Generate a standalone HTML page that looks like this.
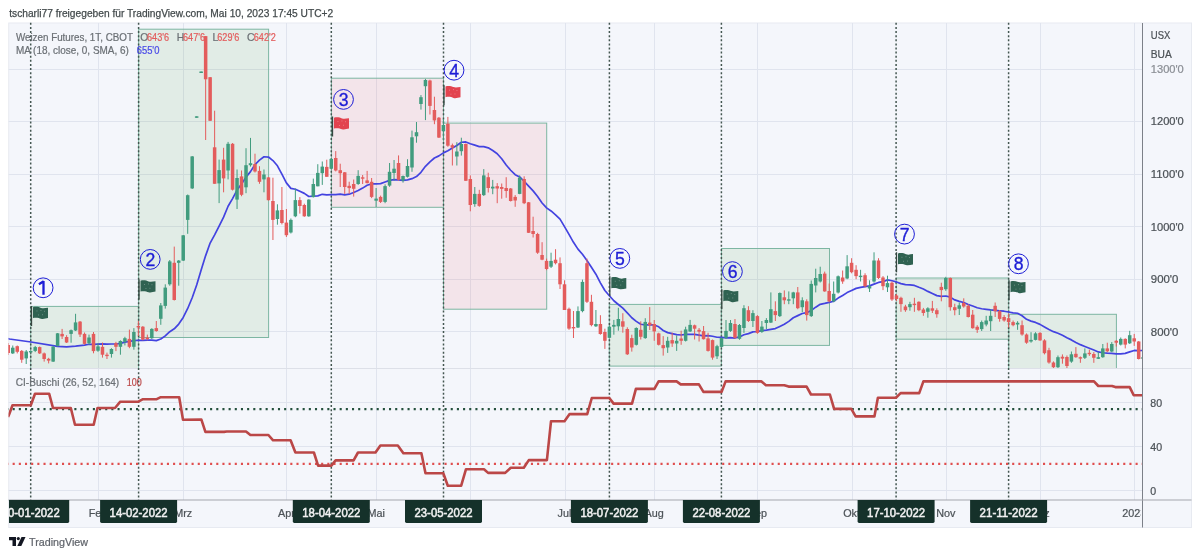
<!DOCTYPE html><html><head><meta charset="utf-8"><style>html,body{margin:0;padding:0;background:#fff;width:1200px;height:557px;overflow:hidden}svg{display:block;will-change:transform}text{font-family:"Liberation Sans",sans-serif}</style></head><body><svg width="1200" height="557" viewBox="0 0 1200 557"><defs><clipPath id="mp"><rect x="8.5" y="23" width="1133.5" height="345"/></clipPath><clipPath id="ip"><rect x="8.5" y="369" width="1133.5" height="130.5"/></clipPath><clipPath id="tp"><rect x="9" y="500" width="1133" height="27"/></clipPath><clipPath id="tpm"><rect x="8.5" y="500" width="1132.3" height="27"/></clipPath></defs><text x="9.2" y="17" font-size="10.6" fill="#434a4c" stroke="#434a4c" stroke-width="0.25" textLength="324" lengthAdjust="spacingAndGlyphs">tscharli77 freigegeben für TradingView.com, Mai 10, 2023 17:45 UTC+2</text><rect x="8.75" y="23" width="1182.75" height="504.5" fill="#f4f6fb" stroke="#e7eaf1" stroke-width="1"/><line x1="8.5" x2="1142" y1="69.5" y2="69.5" stroke="#e0e4ee" stroke-width="1"/><line x1="8.5" x2="1142" y1="121.5" y2="121.5" stroke="#e0e4ee" stroke-width="1"/><line x1="8.5" x2="1142" y1="174.5" y2="174.5" stroke="#e0e4ee" stroke-width="1"/><line x1="8.5" x2="1142" y1="226.5" y2="226.5" stroke="#e0e4ee" stroke-width="1"/><line x1="8.5" x2="1142" y1="279.5" y2="279.5" stroke="#e0e4ee" stroke-width="1"/><line x1="8.5" x2="1142" y1="331.5" y2="331.5" stroke="#e0e4ee" stroke-width="1"/><line x1="8.5" x2="1142" y1="402.5" y2="402.5" stroke="#e0e4ee" stroke-width="1"/><line x1="8.5" x2="1142" y1="446.5" y2="446.5" stroke="#e0e4ee" stroke-width="1"/><line x1="8.5" x2="1142" y1="490.5" y2="490.5" stroke="#e0e4ee" stroke-width="1"/><line x1="98.5" x2="98.5" y1="23" y2="500" stroke="#e0e4ee" stroke-width="1"/><line x1="183.5" x2="183.5" y1="23" y2="500" stroke="#e0e4ee" stroke-width="1"/><line x1="286.5" x2="286.5" y1="23" y2="500" stroke="#e0e4ee" stroke-width="1"/><line x1="376.5" x2="376.5" y1="23" y2="500" stroke="#e0e4ee" stroke-width="1"/><line x1="470.5" x2="470.5" y1="23" y2="500" stroke="#e0e4ee" stroke-width="1"/><line x1="565.5" x2="565.5" y1="23" y2="500" stroke="#e0e4ee" stroke-width="1"/><line x1="654.5" x2="654.5" y1="23" y2="500" stroke="#e0e4ee" stroke-width="1"/><line x1="757.5" x2="757.5" y1="23" y2="500" stroke="#e0e4ee" stroke-width="1"/><line x1="852.5" x2="852.5" y1="23" y2="500" stroke="#e0e4ee" stroke-width="1"/><line x1="946.5" x2="946.5" y1="23" y2="500" stroke="#e0e4ee" stroke-width="1"/><line x1="1040.5" x2="1040.5" y1="23" y2="500" stroke="#e0e4ee" stroke-width="1"/><line x1="1134.5" x2="1134.5" y1="23" y2="500" stroke="#e0e4ee" stroke-width="1"/><line x1="8.5" x2="1191.5" y1="368.5" y2="368.5" stroke="#dde0e8" stroke-width="1"/><g clip-path="url(#mp)"><rect x="30.7" y="306.4" width="107.9" height="73.6" fill="rgba(70,155,60,0.105)" stroke="#7db6a2" stroke-width="1"/><rect x="138.6" y="29.2" width="130.0" height="308.3" fill="rgba(70,155,60,0.105)" stroke="#7db6a2" stroke-width="1"/><rect x="331.4" y="78.2" width="112.1" height="129.1" fill="rgba(235,60,70,0.095)" stroke="#7db6a2" stroke-width="1"/><rect x="443.5" y="123.1" width="103.2" height="186.1" fill="rgba(235,60,70,0.095)" stroke="#7db6a2" stroke-width="1"/><rect x="609.3" y="304.4" width="112.1" height="61.7" fill="rgba(70,155,60,0.105)" stroke="#7db6a2" stroke-width="1"/><rect x="721.4" y="248.5" width="108.1" height="96.9" fill="rgba(70,155,60,0.105)" stroke="#7db6a2" stroke-width="1"/><rect x="896.2" y="278.0" width="112.5" height="61.2" fill="rgba(70,155,60,0.105)" stroke="#7db6a2" stroke-width="1"/><rect x="1008.7" y="314.3" width="107.7" height="54.2" fill="rgba(70,155,60,0.105)" stroke="#7db6a2" stroke-width="1"/></g><line x1="30.7" x2="30.7" y1="22.85" y2="500" stroke="#435650" stroke-width="1.5" stroke-dasharray="2 2.11"/><line x1="138.6" x2="138.6" y1="22.85" y2="500" stroke="#435650" stroke-width="1.5" stroke-dasharray="2 2.11"/><line x1="331.3" x2="331.3" y1="22.85" y2="500" stroke="#435650" stroke-width="1.5" stroke-dasharray="2 2.11"/><line x1="443.5" x2="443.5" y1="22.85" y2="500" stroke="#435650" stroke-width="1.5" stroke-dasharray="2 2.11"/><line x1="609.4" x2="609.4" y1="22.85" y2="500" stroke="#435650" stroke-width="1.5" stroke-dasharray="2 2.11"/><line x1="721.4" x2="721.4" y1="22.85" y2="500" stroke="#435650" stroke-width="1.5" stroke-dasharray="2 2.11"/><line x1="896.1" x2="896.1" y1="22.85" y2="500" stroke="#435650" stroke-width="1.5" stroke-dasharray="2 2.11"/><line x1="1008.6" x2="1008.6" y1="22.85" y2="500" stroke="#435650" stroke-width="1.5" stroke-dasharray="2 2.11"/><g clip-path="url(#mp)"><path d="M8.00,338.50 L9.40,339.00 L31.00,342.00 L57.50,346.30 L66.60,346.80 L75.60,346.20 L84.53,345.12 L89.02,344.26 L93.50,344.44 L97.99,344.14 L102.47,343.87 L106.96,344.12 L111.44,344.01 L115.93,343.99 L120.42,343.31 L124.90,342.15 L129.39,341.38 L133.87,340.57 L138.36,340.24 L142.84,340.42 L147.33,340.22 L151.82,340.15 L156.30,340.63 L160.79,339.01 L165.27,335.88 L169.76,331.66 L174.25,328.82 L178.73,324.05 L183.22,317.42 L187.70,308.48 L192.19,297.78 L196.67,284.97 L201.16,270.00 L205.65,255.62 L210.13,243.06 L214.62,234.83 L219.10,226.09 L223.59,217.13 L228.08,206.29 L232.56,198.56 L237.05,190.06 L241.53,183.91 L246.02,177.11 L250.50,171.66 L254.99,164.52 L259.48,160.14 L263.96,156.76 L268.45,157.04 L272.93,160.57 L277.42,165.79 L281.90,174.21 L286.39,182.87 L290.88,188.38 L295.36,189.28 L299.85,191.28 L304.33,193.38 L308.82,196.48 L313.31,196.17 L317.79,195.88 L322.28,194.32 L326.76,194.96 L331.25,194.72 L335.73,194.67 L340.22,194.19 L344.71,194.88 L349.19,194.21 L353.68,192.48 L358.16,190.57 L362.65,188.10 L367.13,185.21 L371.62,183.93 L376.11,183.84 L380.59,183.62 L385.08,181.94 L389.56,180.39 L394.05,179.54 L398.54,179.93 L403.02,180.45 L407.51,179.85 L411.99,178.65 L416.48,176.52 L420.96,172.30 L425.45,166.36 L429.94,161.79 L434.42,157.99 L438.91,155.86 L443.39,152.88 L447.88,150.81 L452.37,148.07 L456.85,145.45 L461.34,142.23 L465.82,141.94 L470.31,143.78 L474.79,145.18 L479.28,146.63 L483.77,146.60 L488.25,147.82 L492.74,150.57 L497.22,153.69 L501.71,158.79 L506.19,164.96 L510.68,170.24 L515.17,174.69 L519.65,176.92 L524.14,181.26 L528.62,186.10 L533.11,190.90 L537.60,196.52 L542.08,202.95 L546.57,207.85 L551.05,210.96 L555.54,214.81 L560.02,219.16 L564.51,226.64 L569.00,234.45 L573.48,242.30 L577.97,249.11 L582.45,254.28 L586.94,260.43 L591.43,267.33 L595.91,274.19 L600.40,282.87 L604.88,290.52 L609.37,295.73 L613.85,300.78 L618.34,304.47 L622.83,308.19 L627.31,312.93 L631.80,317.74 L636.28,321.34 L640.77,324.26 L645.25,324.92 L649.74,324.73 L654.23,324.92 L658.71,326.79 L663.20,330.48 L667.68,332.64 L672.17,333.67 L676.66,334.60 L681.14,334.98 L685.63,334.34 L690.11,334.24 L694.60,334.46 L699.08,335.16 L703.57,335.85 L708.06,335.66 L712.54,336.22 L717.03,337.23 L721.51,337.31 L726.00,337.81 L730.48,337.68 L734.97,338.03 L739.46,336.93 L743.94,334.71 L748.43,333.61 L752.91,331.92 L757.40,331.48 L761.89,330.69 L766.37,330.17 L770.86,329.30 L775.34,328.54 L779.83,326.40 L784.31,324.24 L788.80,321.37 L793.29,317.75 L797.77,315.64 L802.26,313.54 L806.74,312.66 L811.23,310.49 L815.72,307.17 L820.20,304.33 L824.69,303.40 L829.17,302.31 L833.66,301.23 L838.14,298.09 L842.63,295.58 L847.12,292.60 L851.60,290.54 L856.09,288.38 L860.57,287.42 L865.06,286.63 L869.54,285.91 L874.03,284.13 L878.52,282.46 L883.00,281.67 L887.49,279.89 L891.97,280.76 L896.46,281.93 L900.95,283.60 L905.43,284.64 L909.92,284.80 L914.40,285.41 L918.89,287.29 L923.37,289.04 L927.86,291.38 L932.35,293.52 L936.83,295.63 L941.32,296.43 L945.80,295.98 L950.29,297.14 L954.77,299.91 L959.26,301.42 L963.75,302.55 L968.23,304.43 L972.72,306.03 L977.20,307.74 L981.69,308.74 L986.18,309.31 L990.66,309.96 L995.15,310.32 L999.63,310.80 L1004.12,311.22 L1008.60,311.98 L1013.09,312.79 L1017.58,313.27 L1022.06,315.73 L1026.55,319.33 L1031.03,321.14 L1035.52,322.43 L1040.01,324.38 L1044.49,326.98 L1048.98,329.51 L1053.46,331.67 L1057.95,333.19 L1062.43,335.22 L1066.92,337.75 L1071.41,339.89 L1075.89,342.44 L1080.38,344.65 L1084.86,346.48 L1089.35,348.24 L1093.83,350.05 L1098.32,351.96 L1102.81,352.73 L1107.29,353.21 L1111.78,353.44 L1116.26,353.96 L1120.75,353.87 L1125.24,353.39 L1129.72,351.88 L1134.21,350.45 L1138.69,350.55 L1143.18,350.46" fill="none" stroke="#4343e0" stroke-width="1.7" stroke-linejoin="round"/></g><g clip-path="url(#mp)"><rect x="7.77" y="343.0" width="1.0" height="12.0" fill="#e35c5c"/><rect x="6.52" y="345.0" width="3.5" height="8.0" fill="#e35c5c"/><rect x="12.26" y="345.5" width="1.0" height="8.5" fill="#419c7e"/><rect x="11.01" y="347.7" width="3.5" height="5.7" fill="#419c7e"/><rect x="16.74" y="345.5" width="1.0" height="7.9" fill="#e35c5c"/><rect x="15.49" y="346.2" width="3.5" height="5.6" fill="#e35c5c"/><rect x="21.23" y="350.0" width="1.0" height="12.8" fill="#e35c5c"/><rect x="19.98" y="350.9" width="3.5" height="8.8" fill="#e35c5c"/><rect x="25.71" y="350.0" width="1.0" height="14.0" fill="#419c7e"/><rect x="24.46" y="351.5" width="3.5" height="6.9" fill="#419c7e"/><rect x="30.20" y="350.5" width="1.0" height="2.0" fill="#419c7e"/><rect x="28.95" y="351.0" width="3.5" height="1.4" fill="#419c7e"/><rect x="34.69" y="345.9" width="1.0" height="6.2" fill="#419c7e"/><rect x="33.44" y="347.1" width="3.5" height="3.8" fill="#419c7e"/><rect x="39.17" y="346.5" width="1.0" height="7.5" fill="#e35c5c"/><rect x="37.92" y="347.1" width="3.5" height="6.3" fill="#e35c5c"/><rect x="43.66" y="352.5" width="1.0" height="9.1" fill="#e35c5c"/><rect x="42.41" y="353.4" width="3.5" height="5.6" fill="#e35c5c"/><rect x="48.14" y="357.8" width="1.0" height="5.6" fill="#e35c5c"/><rect x="46.89" y="358.8" width="3.5" height="1.8" fill="#e35c5c"/><rect x="52.63" y="346.0" width="1.0" height="16.0" fill="#419c7e"/><rect x="51.38" y="346.7" width="3.5" height="14.9" fill="#419c7e"/><rect x="57.11" y="333.0" width="1.0" height="13.5" fill="#419c7e"/><rect x="55.86" y="333.3" width="3.5" height="12.6" fill="#419c7e"/><rect x="61.60" y="328.9" width="1.0" height="10.1" fill="#e35c5c"/><rect x="60.35" y="333.9" width="3.5" height="2.5" fill="#e35c5c"/><rect x="66.09" y="335.2" width="1.0" height="7.8" fill="#e35c5c"/><rect x="64.84" y="337.0" width="3.5" height="5.5" fill="#e35c5c"/><rect x="70.57" y="329.5" width="1.0" height="13.2" fill="#419c7e"/><rect x="69.32" y="330.2" width="3.5" height="3.7" fill="#419c7e"/><rect x="75.06" y="313.8" width="1.0" height="17.2" fill="#419c7e"/><rect x="73.81" y="322.4" width="3.5" height="8.1" fill="#419c7e"/><rect x="79.54" y="321.0" width="1.0" height="16.0" fill="#e35c5c"/><rect x="78.29" y="321.6" width="3.5" height="12.9" fill="#e35c5c"/><rect x="84.03" y="332.5" width="1.0" height="12.2" fill="#e35c5c"/><rect x="82.78" y="333.9" width="3.5" height="10.0" fill="#e35c5c"/><rect x="88.52" y="334.6" width="1.0" height="10.1" fill="#419c7e"/><rect x="87.27" y="337.5" width="3.5" height="5.7" fill="#419c7e"/><rect x="93.00" y="332.0" width="1.0" height="21.3" fill="#e35c5c"/><rect x="91.75" y="333.9" width="3.5" height="17.2" fill="#e35c5c"/><rect x="97.49" y="343.2" width="1.0" height="8.6" fill="#419c7e"/><rect x="96.24" y="346.4" width="3.5" height="4.3" fill="#419c7e"/><rect x="101.97" y="342.5" width="1.0" height="15.1" fill="#e35c5c"/><rect x="100.72" y="346.8" width="3.5" height="7.9" fill="#e35c5c"/><rect x="106.46" y="352.6" width="1.0" height="6.4" fill="#e35c5c"/><rect x="105.21" y="354.7" width="3.5" height="1.4" fill="#e35c5c"/><rect x="110.94" y="348.2" width="1.0" height="9.4" fill="#419c7e"/><rect x="109.69" y="349.0" width="3.5" height="5.0" fill="#419c7e"/><rect x="115.43" y="341.8" width="1.0" height="9.3" fill="#e35c5c"/><rect x="114.18" y="343.2" width="3.5" height="3.6" fill="#e35c5c"/><rect x="119.92" y="340.3" width="1.0" height="14.4" fill="#419c7e"/><rect x="118.67" y="341.0" width="3.5" height="5.8" fill="#419c7e"/><rect x="124.40" y="336.8" width="1.0" height="8.6" fill="#419c7e"/><rect x="123.15" y="338.2" width="3.5" height="3.6" fill="#419c7e"/><rect x="128.89" y="329.6" width="1.0" height="18.6" fill="#e35c5c"/><rect x="127.64" y="338.9" width="3.5" height="7.9" fill="#e35c5c"/><rect x="133.37" y="328.1" width="1.0" height="21.6" fill="#419c7e"/><rect x="132.12" y="332.0" width="3.5" height="14.8" fill="#419c7e"/><rect x="137.86" y="321.0" width="1.0" height="15.0" fill="#e35c5c"/><rect x="136.61" y="326.0" width="3.5" height="1.4" fill="#e35c5c"/><rect x="142.34" y="326.0" width="1.0" height="14.3" fill="#e35c5c"/><rect x="141.09" y="326.7" width="3.5" height="12.9" fill="#e35c5c"/><rect x="146.83" y="334.6" width="1.0" height="5.7" fill="#e35c5c"/><rect x="145.58" y="337.5" width="3.5" height="1.5" fill="#e35c5c"/><rect x="151.32" y="328.2" width="1.0" height="10.8" fill="#419c7e"/><rect x="150.07" y="328.9" width="3.5" height="9.3" fill="#419c7e"/><rect x="155.80" y="321.0" width="1.0" height="10.7" fill="#e35c5c"/><rect x="154.55" y="328.1" width="3.5" height="2.9" fill="#e35c5c"/><rect x="160.29" y="303.0" width="1.0" height="21.8" fill="#419c7e"/><rect x="159.04" y="305.4" width="3.5" height="13.4" fill="#419c7e"/><rect x="164.77" y="284.3" width="1.0" height="24.3" fill="#419c7e"/><rect x="163.52" y="287.6" width="3.5" height="18.3" fill="#419c7e"/><rect x="169.26" y="260.0" width="1.0" height="25.7" fill="#419c7e"/><rect x="168.01" y="261.4" width="3.5" height="22.9" fill="#419c7e"/><rect x="173.75" y="246.6" width="1.0" height="53.9" fill="#e35c5c"/><rect x="172.50" y="262.8" width="3.5" height="37.2" fill="#e35c5c"/><rect x="178.23" y="260.0" width="1.0" height="25.7" fill="#419c7e"/><rect x="176.98" y="260.6" width="3.5" height="2.2" fill="#419c7e"/><rect x="182.72" y="235.0" width="1.0" height="26.0" fill="#419c7e"/><rect x="181.47" y="235.3" width="3.5" height="25.3" fill="#419c7e"/><rect x="187.20" y="194.5" width="1.0" height="39.3" fill="#419c7e"/><rect x="185.95" y="195.2" width="3.5" height="24.7" fill="#419c7e"/><rect x="191.69" y="156.0" width="1.0" height="33.0" fill="#419c7e"/><rect x="190.44" y="156.4" width="3.5" height="32.0" fill="#419c7e"/><rect x="196.17" y="116.3" width="1.0" height="1.5" fill="#419c7e"/><rect x="194.92" y="116.3" width="3.5" height="1.5" fill="#419c7e"/><rect x="200.66" y="71.5" width="1.0" height="1.5" fill="#419c7e"/><rect x="199.41" y="71.5" width="3.5" height="1.5" fill="#419c7e"/><rect x="205.15" y="36.0" width="1.0" height="104.0" fill="#e35c5c"/><rect x="203.90" y="36.1" width="3.5" height="43.2" fill="#e35c5c"/><rect x="209.63" y="77.0" width="1.0" height="44.0" fill="#e35c5c"/><rect x="208.38" y="77.2" width="3.5" height="43.6" fill="#e35c5c"/><rect x="214.12" y="110.7" width="1.0" height="73.1" fill="#e35c5c"/><rect x="212.87" y="147.3" width="3.5" height="36.5" fill="#e35c5c"/><rect x="218.60" y="159.6" width="1.0" height="43.5" fill="#419c7e"/><rect x="217.35" y="170.1" width="3.5" height="13.3" fill="#419c7e"/><rect x="223.09" y="147.8" width="1.0" height="44.5" fill="#e35c5c"/><rect x="221.84" y="159.6" width="3.5" height="18.8" fill="#e35c5c"/><rect x="227.58" y="141.9" width="1.0" height="37.5" fill="#419c7e"/><rect x="226.33" y="143.8" width="3.5" height="26.7" fill="#419c7e"/><rect x="232.06" y="143.0" width="1.0" height="47.5" fill="#e35c5c"/><rect x="230.81" y="143.8" width="3.5" height="45.9" fill="#e35c5c"/><rect x="236.55" y="169.5" width="1.0" height="39.5" fill="#419c7e"/><rect x="235.30" y="178.0" width="3.5" height="21.6" fill="#419c7e"/><rect x="241.03" y="170.5" width="1.0" height="25.7" fill="#e35c5c"/><rect x="239.78" y="176.4" width="3.5" height="18.4" fill="#e35c5c"/><rect x="245.52" y="148.2" width="1.0" height="45.0" fill="#419c7e"/><rect x="244.27" y="165.2" width="3.5" height="22.1" fill="#419c7e"/><rect x="250.00" y="137.9" width="1.0" height="28.7" fill="#419c7e"/><rect x="248.75" y="163.2" width="3.5" height="2.0" fill="#419c7e"/><rect x="254.49" y="153.7" width="1.0" height="18.8" fill="#e35c5c"/><rect x="253.24" y="164.0" width="3.5" height="7.5" fill="#e35c5c"/><rect x="258.98" y="166.2" width="1.0" height="17.6" fill="#e35c5c"/><rect x="257.73" y="170.9" width="3.5" height="10.9" fill="#e35c5c"/><rect x="263.46" y="169.5" width="1.0" height="22.8" fill="#419c7e"/><rect x="262.21" y="174.5" width="3.5" height="4.9" fill="#419c7e"/><rect x="267.95" y="177.0" width="1.0" height="23.5" fill="#e35c5c"/><rect x="266.70" y="177.4" width="3.5" height="22.8" fill="#e35c5c"/><rect x="272.43" y="177.7" width="1.0" height="62.3" fill="#e35c5c"/><rect x="271.18" y="201.0" width="3.5" height="18.9" fill="#e35c5c"/><rect x="276.92" y="204.3" width="1.0" height="20.4" fill="#419c7e"/><rect x="275.67" y="210.4" width="3.5" height="8.6" fill="#419c7e"/><rect x="281.40" y="187.0" width="1.0" height="37.4" fill="#e35c5c"/><rect x="280.15" y="210.0" width="3.5" height="13.0" fill="#e35c5c"/><rect x="285.89" y="209.0" width="1.0" height="28.0" fill="#e35c5c"/><rect x="284.64" y="222.6" width="3.5" height="12.6" fill="#e35c5c"/><rect x="290.38" y="218.5" width="1.0" height="15.0" fill="#419c7e"/><rect x="289.13" y="219.9" width="3.5" height="12.6" fill="#419c7e"/><rect x="294.86" y="188.5" width="1.0" height="28.7" fill="#419c7e"/><rect x="293.61" y="200.1" width="3.5" height="16.2" fill="#419c7e"/><rect x="299.35" y="197.1" width="1.0" height="16.5" fill="#e35c5c"/><rect x="298.10" y="200.1" width="3.5" height="5.9" fill="#e35c5c"/><rect x="303.83" y="203.7" width="1.0" height="13.1" fill="#e35c5c"/><rect x="302.58" y="205.0" width="3.5" height="11.3" fill="#e35c5c"/><rect x="308.32" y="199.2" width="1.0" height="17.6" fill="#419c7e"/><rect x="307.07" y="199.6" width="3.5" height="16.7" fill="#419c7e"/><rect x="312.81" y="178.6" width="1.0" height="18.9" fill="#419c7e"/><rect x="311.56" y="184.0" width="3.5" height="13.1" fill="#419c7e"/><rect x="317.29" y="164.2" width="1.0" height="22.1" fill="#419c7e"/><rect x="316.04" y="172.9" width="3.5" height="13.4" fill="#419c7e"/><rect x="321.78" y="161.5" width="1.0" height="23.4" fill="#419c7e"/><rect x="320.53" y="166.6" width="3.5" height="6.6" fill="#419c7e"/><rect x="326.26" y="159.7" width="1.0" height="17.1" fill="#e35c5c"/><rect x="325.01" y="166.9" width="3.5" height="9.9" fill="#e35c5c"/><rect x="330.75" y="158.0" width="1.0" height="11.6" fill="#419c7e"/><rect x="329.50" y="158.9" width="3.5" height="9.8" fill="#419c7e"/><rect x="335.23" y="151.1" width="1.0" height="20.3" fill="#e35c5c"/><rect x="333.98" y="158.0" width="3.5" height="12.5" fill="#e35c5c"/><rect x="339.72" y="163.7" width="1.0" height="23.3" fill="#e35c5c"/><rect x="338.47" y="170.2" width="3.5" height="3.0" fill="#e35c5c"/><rect x="344.21" y="172.0" width="1.0" height="21.9" fill="#e35c5c"/><rect x="342.96" y="172.3" width="3.5" height="14.7" fill="#e35c5c"/><rect x="348.69" y="181.7" width="1.0" height="12.2" fill="#e35c5c"/><rect x="347.44" y="185.8" width="3.5" height="2.3" fill="#e35c5c"/><rect x="353.18" y="179.5" width="1.0" height="17.1" fill="#e35c5c"/><rect x="351.93" y="184.0" width="3.5" height="4.8" fill="#e35c5c"/><rect x="357.66" y="170.2" width="1.0" height="14.7" fill="#419c7e"/><rect x="356.41" y="175.9" width="3.5" height="8.1" fill="#419c7e"/><rect x="362.15" y="175.0" width="1.0" height="9.0" fill="#e35c5c"/><rect x="360.90" y="177.3" width="3.5" height="1.4" fill="#e35c5c"/><rect x="366.63" y="170.9" width="1.0" height="12.5" fill="#e35c5c"/><rect x="365.38" y="180.4" width="3.5" height="2.7" fill="#e35c5c"/><rect x="371.12" y="178.0" width="1.0" height="20.1" fill="#e35c5c"/><rect x="369.87" y="181.8" width="3.5" height="15.1" fill="#e35c5c"/><rect x="375.61" y="188.0" width="1.0" height="19.0" fill="#419c7e"/><rect x="374.36" y="198.6" width="3.5" height="2.1" fill="#419c7e"/><rect x="380.09" y="195.6" width="1.0" height="7.4" fill="#e35c5c"/><rect x="378.84" y="196.9" width="3.5" height="5.0" fill="#e35c5c"/><rect x="384.58" y="184.3" width="1.0" height="18.9" fill="#419c7e"/><rect x="383.33" y="186.1" width="3.5" height="15.8" fill="#419c7e"/><rect x="389.06" y="163.0" width="1.0" height="23.8" fill="#419c7e"/><rect x="387.81" y="171.8" width="3.5" height="13.8" fill="#419c7e"/><rect x="393.55" y="160.0" width="1.0" height="20.6" fill="#419c7e"/><rect x="392.30" y="168.7" width="3.5" height="4.3" fill="#419c7e"/><rect x="398.04" y="155.4" width="1.0" height="25.2" fill="#e35c5c"/><rect x="396.79" y="163.0" width="3.5" height="16.8" fill="#e35c5c"/><rect x="402.52" y="175.5" width="1.0" height="7.1" fill="#419c7e"/><rect x="401.27" y="176.0" width="3.5" height="4.6" fill="#419c7e"/><rect x="407.01" y="159.2" width="1.0" height="18.3" fill="#419c7e"/><rect x="405.76" y="166.0" width="3.5" height="10.8" fill="#419c7e"/><rect x="411.49" y="130.6" width="1.0" height="41.2" fill="#419c7e"/><rect x="410.24" y="137.3" width="3.5" height="30.2" fill="#419c7e"/><rect x="415.98" y="122.0" width="1.0" height="20.7" fill="#419c7e"/><rect x="414.73" y="132.2" width="3.5" height="4.1" fill="#419c7e"/><rect x="420.46" y="95.1" width="1.0" height="14.5" fill="#419c7e"/><rect x="419.21" y="97.2" width="3.5" height="6.8" fill="#419c7e"/><rect x="424.95" y="78.9" width="1.0" height="41.2" fill="#419c7e"/><rect x="423.70" y="80.0" width="3.5" height="6.2" fill="#419c7e"/><rect x="429.44" y="79.7" width="1.0" height="34.8" fill="#e35c5c"/><rect x="428.19" y="80.5" width="3.5" height="25.4" fill="#e35c5c"/><rect x="433.92" y="96.7" width="1.0" height="27.5" fill="#e35c5c"/><rect x="432.67" y="110.0" width="3.5" height="10.4" fill="#e35c5c"/><rect x="438.41" y="117.0" width="1.0" height="21.0" fill="#e35c5c"/><rect x="437.16" y="117.7" width="3.5" height="19.9" fill="#e35c5c"/><rect x="442.89" y="119.0" width="1.0" height="21.4" fill="#419c7e"/><rect x="441.64" y="125.0" width="3.5" height="6.1" fill="#419c7e"/><rect x="447.38" y="116.9" width="1.0" height="29.9" fill="#e35c5c"/><rect x="446.13" y="123.8" width="3.5" height="21.9" fill="#e35c5c"/><rect x="451.87" y="143.6" width="1.0" height="21.9" fill="#e35c5c"/><rect x="450.62" y="145.2" width="3.5" height="2.4" fill="#e35c5c"/><rect x="456.35" y="142.2" width="1.0" height="23.3" fill="#419c7e"/><rect x="455.10" y="151.5" width="3.5" height="5.0" fill="#419c7e"/><rect x="460.84" y="137.7" width="1.0" height="17.9" fill="#419c7e"/><rect x="459.59" y="144.0" width="3.5" height="7.2" fill="#419c7e"/><rect x="465.32" y="143.5" width="1.0" height="37.5" fill="#e35c5c"/><rect x="464.07" y="144.0" width="3.5" height="36.8" fill="#e35c5c"/><rect x="469.81" y="175.4" width="1.0" height="35.9" fill="#e35c5c"/><rect x="468.56" y="179.0" width="3.5" height="26.0" fill="#e35c5c"/><rect x="474.29" y="187.0" width="1.0" height="19.8" fill="#419c7e"/><rect x="473.04" y="193.9" width="3.5" height="10.2" fill="#419c7e"/><rect x="478.78" y="189.8" width="1.0" height="17.0" fill="#e35c5c"/><rect x="477.53" y="193.9" width="3.5" height="12.0" fill="#e35c5c"/><rect x="483.27" y="169.1" width="1.0" height="26.9" fill="#419c7e"/><rect x="482.02" y="175.4" width="3.5" height="19.7" fill="#419c7e"/><rect x="487.75" y="172.7" width="1.0" height="19.8" fill="#e35c5c"/><rect x="486.50" y="177.2" width="3.5" height="10.8" fill="#e35c5c"/><rect x="492.24" y="179.9" width="1.0" height="14.3" fill="#419c7e"/><rect x="490.99" y="186.7" width="3.5" height="1.8" fill="#419c7e"/><rect x="496.72" y="183.1" width="1.0" height="20.1" fill="#e35c5c"/><rect x="495.47" y="186.2" width="3.5" height="2.3" fill="#e35c5c"/><rect x="501.21" y="183.5" width="1.0" height="15.2" fill="#e35c5c"/><rect x="499.96" y="187.0" width="3.5" height="1.9" fill="#e35c5c"/><rect x="505.69" y="177.2" width="1.0" height="20.6" fill="#e35c5c"/><rect x="504.44" y="188.0" width="3.5" height="3.0" fill="#e35c5c"/><rect x="510.18" y="188.0" width="1.0" height="13.5" fill="#e35c5c"/><rect x="508.93" y="188.5" width="3.5" height="12.5" fill="#e35c5c"/><rect x="514.67" y="195.1" width="1.0" height="11.7" fill="#e35c5c"/><rect x="513.42" y="196.9" width="3.5" height="3.6" fill="#e35c5c"/><rect x="519.15" y="175.4" width="1.0" height="18.8" fill="#419c7e"/><rect x="517.90" y="177.7" width="3.5" height="16.2" fill="#419c7e"/><rect x="523.64" y="176.3" width="1.0" height="27.8" fill="#e35c5c"/><rect x="522.39" y="179.0" width="3.5" height="24.2" fill="#e35c5c"/><rect x="528.12" y="202.0" width="1.0" height="31.0" fill="#e35c5c"/><rect x="526.87" y="202.3" width="3.5" height="30.5" fill="#e35c5c"/><rect x="532.61" y="216.7" width="1.0" height="20.8" fill="#e35c5c"/><rect x="531.36" y="231.0" width="3.5" height="3.0" fill="#e35c5c"/><rect x="537.10" y="232.8" width="1.0" height="21.1" fill="#e35c5c"/><rect x="535.85" y="234.0" width="3.5" height="18.7" fill="#e35c5c"/><rect x="541.58" y="242.2" width="1.0" height="18.0" fill="#e35c5c"/><rect x="540.33" y="255.0" width="3.5" height="4.7" fill="#e35c5c"/><rect x="546.07" y="258.6" width="1.0" height="11.6" fill="#e35c5c"/><rect x="544.82" y="260.9" width="3.5" height="8.1" fill="#e35c5c"/><rect x="550.55" y="252.7" width="1.0" height="15.3" fill="#419c7e"/><rect x="549.30" y="260.9" width="3.5" height="5.8" fill="#419c7e"/><rect x="555.04" y="249.2" width="1.0" height="15.2" fill="#e35c5c"/><rect x="553.79" y="259.7" width="3.5" height="3.5" fill="#e35c5c"/><rect x="559.52" y="257.4" width="1.0" height="31.6" fill="#e35c5c"/><rect x="558.27" y="263.2" width="3.5" height="21.1" fill="#e35c5c"/><rect x="564.01" y="280.3" width="1.0" height="29.7" fill="#e35c5c"/><rect x="562.76" y="284.3" width="3.5" height="25.7" fill="#e35c5c"/><rect x="568.50" y="307.6" width="1.0" height="22.2" fill="#e35c5c"/><rect x="567.25" y="308.8" width="3.5" height="19.8" fill="#e35c5c"/><rect x="572.98" y="311.0" width="1.0" height="27.0" fill="#e35c5c"/><rect x="571.73" y="327.0" width="3.5" height="1.4" fill="#e35c5c"/><rect x="577.47" y="306.4" width="1.0" height="21.6" fill="#419c7e"/><rect x="576.22" y="311.1" width="3.5" height="16.4" fill="#419c7e"/><rect x="581.95" y="279.6" width="1.0" height="32.7" fill="#419c7e"/><rect x="580.70" y="281.9" width="3.5" height="29.2" fill="#419c7e"/><rect x="586.44" y="258.6" width="1.0" height="44.4" fill="#e35c5c"/><rect x="585.19" y="263.2" width="3.5" height="38.6" fill="#e35c5c"/><rect x="590.93" y="294.8" width="1.0" height="31.5" fill="#e35c5c"/><rect x="589.68" y="301.8" width="3.5" height="23.3" fill="#e35c5c"/><rect x="595.41" y="310.0" width="1.0" height="17.0" fill="#419c7e"/><rect x="594.16" y="324.0" width="3.5" height="2.3" fill="#419c7e"/><rect x="599.90" y="315.2" width="1.0" height="19.5" fill="#e35c5c"/><rect x="598.65" y="324.0" width="3.5" height="10.0" fill="#e35c5c"/><rect x="604.38" y="328.7" width="1.0" height="20.2" fill="#e35c5c"/><rect x="603.13" y="332.0" width="3.5" height="8.8" fill="#e35c5c"/><rect x="608.87" y="325.4" width="1.0" height="12.8" fill="#419c7e"/><rect x="607.62" y="326.7" width="3.5" height="11.1" fill="#419c7e"/><rect x="613.35" y="319.9" width="1.0" height="14.8" fill="#419c7e"/><rect x="612.10" y="324.9" width="3.5" height="1.8" fill="#419c7e"/><rect x="617.84" y="307.8" width="1.0" height="22.9" fill="#419c7e"/><rect x="616.59" y="319.0" width="3.5" height="7.3" fill="#419c7e"/><rect x="622.33" y="313.2" width="1.0" height="19.5" fill="#e35c5c"/><rect x="621.08" y="321.3" width="3.5" height="5.4" fill="#e35c5c"/><rect x="626.81" y="327.3" width="1.0" height="27.7" fill="#e35c5c"/><rect x="625.56" y="329.0" width="3.5" height="25.3" fill="#e35c5c"/><rect x="631.30" y="334.7" width="1.0" height="16.9" fill="#e35c5c"/><rect x="630.05" y="338.1" width="3.5" height="9.4" fill="#e35c5c"/><rect x="635.78" y="327.3" width="1.0" height="18.2" fill="#419c7e"/><rect x="634.53" y="328.0" width="3.5" height="16.8" fill="#419c7e"/><rect x="640.27" y="321.3" width="1.0" height="18.2" fill="#e35c5c"/><rect x="639.02" y="329.8" width="3.5" height="7.0" fill="#e35c5c"/><rect x="644.75" y="318.2" width="1.0" height="20.6" fill="#419c7e"/><rect x="643.50" y="321.9" width="3.5" height="16.2" fill="#419c7e"/><rect x="649.24" y="307.1" width="1.0" height="22.9" fill="#e35c5c"/><rect x="647.99" y="322.6" width="3.5" height="2.7" fill="#e35c5c"/><rect x="653.73" y="320.0" width="1.0" height="20.8" fill="#e35c5c"/><rect x="652.48" y="324.0" width="3.5" height="7.4" fill="#e35c5c"/><rect x="658.21" y="332.7" width="1.0" height="12.8" fill="#e35c5c"/><rect x="656.96" y="333.4" width="3.5" height="11.4" fill="#e35c5c"/><rect x="662.70" y="336.1" width="1.0" height="19.5" fill="#e35c5c"/><rect x="661.45" y="345.1" width="3.5" height="3.1" fill="#e35c5c"/><rect x="667.18" y="336.8" width="1.0" height="16.1" fill="#419c7e"/><rect x="665.93" y="340.8" width="3.5" height="6.7" fill="#419c7e"/><rect x="671.67" y="332.7" width="1.0" height="14.2" fill="#e35c5c"/><rect x="670.42" y="340.1" width="3.5" height="3.4" fill="#e35c5c"/><rect x="676.16" y="335.4" width="1.0" height="15.5" fill="#419c7e"/><rect x="674.91" y="340.8" width="3.5" height="2.7" fill="#419c7e"/><rect x="680.64" y="330.7" width="1.0" height="14.1" fill="#e35c5c"/><rect x="679.39" y="338.5" width="3.5" height="2.3" fill="#e35c5c"/><rect x="685.13" y="326.7" width="1.0" height="14.8" fill="#419c7e"/><rect x="683.88" y="329.4" width="3.5" height="11.4" fill="#419c7e"/><rect x="689.61" y="319.9" width="1.0" height="12.1" fill="#419c7e"/><rect x="688.36" y="324.9" width="3.5" height="6.5" fill="#419c7e"/><rect x="694.10" y="324.6" width="1.0" height="14.9" fill="#e35c5c"/><rect x="692.85" y="325.3" width="3.5" height="3.4" fill="#e35c5c"/><rect x="698.58" y="328.0" width="1.0" height="13.5" fill="#e35c5c"/><rect x="697.33" y="329.8" width="3.5" height="1.8" fill="#e35c5c"/><rect x="703.07" y="326.0" width="1.0" height="13.5" fill="#e35c5c"/><rect x="701.82" y="331.1" width="3.5" height="8.1" fill="#e35c5c"/><rect x="707.56" y="332.7" width="1.0" height="18.9" fill="#e35c5c"/><rect x="706.31" y="338.4" width="3.5" height="12.5" fill="#e35c5c"/><rect x="712.04" y="339.5" width="1.0" height="20.2" fill="#e35c5c"/><rect x="710.79" y="340.1" width="3.5" height="17.5" fill="#e35c5c"/><rect x="716.53" y="344.8" width="1.0" height="14.2" fill="#419c7e"/><rect x="715.28" y="346.2" width="3.5" height="10.1" fill="#419c7e"/><rect x="721.01" y="337.4" width="1.0" height="10.1" fill="#419c7e"/><rect x="719.76" y="338.1" width="3.5" height="8.8" fill="#419c7e"/><rect x="725.50" y="320.0" width="1.0" height="18.8" fill="#419c7e"/><rect x="724.25" y="330.9" width="3.5" height="6.9" fill="#419c7e"/><rect x="729.98" y="320.0" width="1.0" height="11.9" fill="#419c7e"/><rect x="728.73" y="323.0" width="3.5" height="7.9" fill="#419c7e"/><rect x="734.47" y="319.0" width="1.0" height="19.8" fill="#e35c5c"/><rect x="733.22" y="324.0" width="3.5" height="13.8" fill="#e35c5c"/><rect x="738.96" y="324.0" width="1.0" height="15.8" fill="#419c7e"/><rect x="737.71" y="325.0" width="3.5" height="13.8" fill="#419c7e"/><rect x="743.44" y="305.2" width="1.0" height="27.7" fill="#419c7e"/><rect x="742.19" y="308.2" width="3.5" height="19.8" fill="#419c7e"/><rect x="747.93" y="306.2" width="1.0" height="15.8" fill="#e35c5c"/><rect x="746.68" y="310.2" width="3.5" height="10.8" fill="#e35c5c"/><rect x="752.41" y="310.2" width="1.0" height="16.8" fill="#419c7e"/><rect x="751.16" y="313.1" width="3.5" height="7.9" fill="#419c7e"/><rect x="756.90" y="315.1" width="1.0" height="18.8" fill="#e35c5c"/><rect x="755.65" y="316.1" width="3.5" height="16.8" fill="#e35c5c"/><rect x="761.39" y="321.0" width="1.0" height="11.9" fill="#419c7e"/><rect x="760.14" y="326.6" width="3.5" height="5.3" fill="#419c7e"/><rect x="765.87" y="318.1" width="1.0" height="10.9" fill="#419c7e"/><rect x="764.62" y="320.0" width="3.5" height="3.0" fill="#419c7e"/><rect x="770.36" y="292.4" width="1.0" height="30.6" fill="#419c7e"/><rect x="769.11" y="309.2" width="3.5" height="13.4" fill="#419c7e"/><rect x="774.84" y="301.3" width="1.0" height="19.7" fill="#e35c5c"/><rect x="773.59" y="311.1" width="3.5" height="4.0" fill="#e35c5c"/><rect x="779.33" y="292.4" width="1.0" height="24.6" fill="#419c7e"/><rect x="778.08" y="293.0" width="3.5" height="23.1" fill="#419c7e"/><rect x="783.81" y="290.4" width="1.0" height="13.8" fill="#e35c5c"/><rect x="782.56" y="297.3" width="3.5" height="3.0" fill="#e35c5c"/><rect x="788.30" y="291.4" width="1.0" height="12.8" fill="#419c7e"/><rect x="787.05" y="299.3" width="3.5" height="1.4" fill="#419c7e"/><rect x="792.79" y="291.8" width="1.0" height="12.4" fill="#419c7e"/><rect x="791.54" y="292.4" width="3.5" height="5.9" fill="#419c7e"/><rect x="797.27" y="287.0" width="1.0" height="22.2" fill="#e35c5c"/><rect x="796.02" y="292.4" width="3.5" height="15.8" fill="#e35c5c"/><rect x="801.76" y="297.3" width="1.0" height="14.8" fill="#419c7e"/><rect x="800.51" y="300.3" width="3.5" height="6.9" fill="#419c7e"/><rect x="806.24" y="299.3" width="1.0" height="21.3" fill="#e35c5c"/><rect x="804.99" y="301.3" width="3.5" height="13.8" fill="#e35c5c"/><rect x="810.73" y="280.5" width="1.0" height="36.5" fill="#419c7e"/><rect x="809.48" y="283.9" width="3.5" height="32.2" fill="#419c7e"/><rect x="815.22" y="268.7" width="1.0" height="23.7" fill="#419c7e"/><rect x="813.97" y="278.0" width="3.5" height="7.5" fill="#419c7e"/><rect x="819.70" y="266.7" width="1.0" height="15.8" fill="#419c7e"/><rect x="818.45" y="274.0" width="3.5" height="7.5" fill="#419c7e"/><rect x="824.19" y="271.6" width="1.0" height="20.2" fill="#e35c5c"/><rect x="822.94" y="273.6" width="3.5" height="17.8" fill="#e35c5c"/><rect x="828.67" y="283.5" width="1.0" height="18.8" fill="#e35c5c"/><rect x="827.42" y="291.0" width="3.5" height="10.3" fill="#e35c5c"/><rect x="833.16" y="281.5" width="1.0" height="20.8" fill="#419c7e"/><rect x="831.91" y="293.8" width="3.5" height="7.5" fill="#419c7e"/><rect x="837.64" y="275.5" width="1.0" height="18.0" fill="#419c7e"/><rect x="836.39" y="276.3" width="3.5" height="16.2" fill="#419c7e"/><rect x="842.13" y="270.5" width="1.0" height="13.3" fill="#e35c5c"/><rect x="840.88" y="277.5" width="3.5" height="4.0" fill="#e35c5c"/><rect x="846.62" y="255.1" width="1.0" height="24.1" fill="#419c7e"/><rect x="845.37" y="266.3" width="3.5" height="12.2" fill="#419c7e"/><rect x="851.10" y="258.2" width="1.0" height="15.1" fill="#e35c5c"/><rect x="849.85" y="262.8" width="3.5" height="9.4" fill="#e35c5c"/><rect x="855.59" y="265.2" width="1.0" height="14.0" fill="#e35c5c"/><rect x="854.34" y="269.8" width="3.5" height="6.3" fill="#e35c5c"/><rect x="860.07" y="269.8" width="1.0" height="11.7" fill="#419c7e"/><rect x="858.82" y="275.7" width="3.5" height="1.4" fill="#419c7e"/><rect x="864.56" y="273.3" width="1.0" height="14.0" fill="#e35c5c"/><rect x="863.31" y="275.2" width="3.5" height="11.0" fill="#e35c5c"/><rect x="869.04" y="280.3" width="1.0" height="11.7" fill="#419c7e"/><rect x="867.79" y="286.2" width="3.5" height="2.3" fill="#419c7e"/><rect x="873.53" y="252.3" width="1.0" height="30.4" fill="#419c7e"/><rect x="872.28" y="260.5" width="3.5" height="21.0" fill="#419c7e"/><rect x="878.02" y="258.2" width="1.0" height="20.8" fill="#e35c5c"/><rect x="876.77" y="260.5" width="3.5" height="17.5" fill="#e35c5c"/><rect x="882.50" y="276.1" width="1.0" height="14.0" fill="#e35c5c"/><rect x="881.25" y="277.5" width="3.5" height="8.7" fill="#e35c5c"/><rect x="886.99" y="275.7" width="1.0" height="16.3" fill="#419c7e"/><rect x="885.74" y="283.1" width="3.5" height="4.2" fill="#419c7e"/><rect x="891.47" y="281.5" width="1.0" height="19.4" fill="#e35c5c"/><rect x="890.22" y="282.7" width="3.5" height="16.8" fill="#e35c5c"/><rect x="895.96" y="294.0" width="1.0" height="7.0" fill="#e35c5c"/><rect x="894.71" y="295.5" width="3.5" height="3.5" fill="#e35c5c"/><rect x="900.45" y="296.7" width="1.0" height="15.1" fill="#e35c5c"/><rect x="899.20" y="297.8" width="3.5" height="6.3" fill="#e35c5c"/><rect x="904.93" y="304.8" width="1.0" height="7.0" fill="#e35c5c"/><rect x="903.68" y="306.5" width="3.5" height="3.7" fill="#e35c5c"/><rect x="909.42" y="301.8" width="1.0" height="8.9" fill="#419c7e"/><rect x="908.17" y="304.1" width="3.5" height="3.1" fill="#419c7e"/><rect x="913.90" y="297.8" width="1.0" height="14.0" fill="#e35c5c"/><rect x="912.65" y="303.7" width="3.5" height="1.4" fill="#e35c5c"/><rect x="918.39" y="301.3" width="1.0" height="9.9" fill="#e35c5c"/><rect x="917.14" y="301.8" width="3.5" height="8.4" fill="#e35c5c"/><rect x="922.87" y="307.9" width="1.0" height="7.9" fill="#e35c5c"/><rect x="921.62" y="309.5" width="3.5" height="3.5" fill="#e35c5c"/><rect x="927.36" y="307.2" width="1.0" height="10.5" fill="#419c7e"/><rect x="926.11" y="308.3" width="3.5" height="3.5" fill="#419c7e"/><rect x="931.85" y="300.9" width="1.0" height="12.1" fill="#e35c5c"/><rect x="930.60" y="308.3" width="3.5" height="2.4" fill="#e35c5c"/><rect x="936.33" y="308.3" width="1.0" height="9.4" fill="#e35c5c"/><rect x="935.08" y="310.2" width="3.5" height="4.0" fill="#e35c5c"/><rect x="940.82" y="282.7" width="1.0" height="18.6" fill="#e35c5c"/><rect x="939.57" y="286.9" width="3.5" height="3.2" fill="#e35c5c"/><rect x="945.30" y="276.8" width="1.0" height="14.0" fill="#419c7e"/><rect x="944.05" y="278.0" width="3.5" height="11.2" fill="#419c7e"/><rect x="949.79" y="277.5" width="1.0" height="33.2" fill="#e35c5c"/><rect x="948.54" y="278.0" width="3.5" height="29.2" fill="#e35c5c"/><rect x="954.27" y="303.7" width="1.0" height="11.6" fill="#e35c5c"/><rect x="953.02" y="307.2" width="3.5" height="3.0" fill="#e35c5c"/><rect x="958.76" y="302.5" width="1.0" height="12.5" fill="#419c7e"/><rect x="957.51" y="305.3" width="3.5" height="3.5" fill="#419c7e"/><rect x="963.25" y="298.3" width="1.0" height="9.4" fill="#e35c5c"/><rect x="962.00" y="303.0" width="3.5" height="3.5" fill="#e35c5c"/><rect x="967.73" y="304.2" width="1.0" height="13.3" fill="#e35c5c"/><rect x="966.48" y="305.8" width="3.5" height="11.2" fill="#e35c5c"/><rect x="972.22" y="310.0" width="1.0" height="18.7" fill="#e35c5c"/><rect x="970.97" y="314.7" width="3.5" height="13.5" fill="#e35c5c"/><rect x="976.70" y="325.2" width="1.0" height="7.7" fill="#e35c5c"/><rect x="975.45" y="326.8" width="3.5" height="3.0" fill="#e35c5c"/><rect x="981.19" y="320.5" width="1.0" height="10.5" fill="#419c7e"/><rect x="979.94" y="322.1" width="3.5" height="7.0" fill="#419c7e"/><rect x="985.68" y="315.8" width="1.0" height="10.5" fill="#419c7e"/><rect x="984.43" y="320.5" width="3.5" height="4.0" fill="#419c7e"/><rect x="990.16" y="309.5" width="1.0" height="21.5" fill="#419c7e"/><rect x="988.91" y="315.8" width="3.5" height="5.4" fill="#419c7e"/><rect x="994.65" y="302.5" width="1.0" height="14.5" fill="#e35c5c"/><rect x="993.40" y="305.8" width="3.5" height="5.4" fill="#e35c5c"/><rect x="999.13" y="310.0" width="1.0" height="11.7" fill="#e35c5c"/><rect x="997.88" y="311.2" width="3.5" height="7.7" fill="#e35c5c"/><rect x="1003.62" y="315.1" width="1.0" height="6.6" fill="#e35c5c"/><rect x="1002.37" y="317.0" width="3.5" height="3.5" fill="#e35c5c"/><rect x="1008.10" y="313.5" width="1.0" height="14.0" fill="#e35c5c"/><rect x="1006.85" y="318.2" width="3.5" height="3.9" fill="#e35c5c"/><rect x="1012.59" y="320.5" width="1.0" height="5.8" fill="#e35c5c"/><rect x="1011.34" y="322.1" width="3.5" height="3.1" fill="#e35c5c"/><rect x="1017.08" y="321.2" width="1.0" height="8.6" fill="#419c7e"/><rect x="1015.83" y="322.8" width="3.5" height="1.7" fill="#419c7e"/><rect x="1021.56" y="320.5" width="1.0" height="15.2" fill="#e35c5c"/><rect x="1020.31" y="325.2" width="3.5" height="9.3" fill="#e35c5c"/><rect x="1026.05" y="333.4" width="1.0" height="10.4" fill="#e35c5c"/><rect x="1024.80" y="334.5" width="3.5" height="8.2" fill="#e35c5c"/><rect x="1030.53" y="332.2" width="1.0" height="10.5" fill="#419c7e"/><rect x="1029.28" y="339.9" width="3.5" height="1.6" fill="#419c7e"/><rect x="1035.02" y="332.2" width="1.0" height="8.2" fill="#419c7e"/><rect x="1033.77" y="333.4" width="3.5" height="6.5" fill="#419c7e"/><rect x="1039.51" y="332.2" width="1.0" height="8.6" fill="#e35c5c"/><rect x="1038.26" y="332.9" width="3.5" height="7.5" fill="#e35c5c"/><rect x="1043.99" y="339.2" width="1.0" height="15.2" fill="#e35c5c"/><rect x="1042.74" y="340.4" width="3.5" height="12.8" fill="#e35c5c"/><rect x="1048.48" y="347.8" width="1.0" height="15.9" fill="#e35c5c"/><rect x="1047.23" y="350.2" width="3.5" height="12.3" fill="#e35c5c"/><rect x="1052.96" y="361.4" width="1.0" height="6.6" fill="#e35c5c"/><rect x="1051.71" y="362.5" width="3.5" height="4.7" fill="#e35c5c"/><rect x="1057.45" y="355.5" width="1.0" height="12.5" fill="#419c7e"/><rect x="1056.20" y="357.2" width="3.5" height="10.0" fill="#419c7e"/><rect x="1061.93" y="354.4" width="1.0" height="9.3" fill="#e35c5c"/><rect x="1060.68" y="356.7" width="3.5" height="1.9" fill="#e35c5c"/><rect x="1066.42" y="355.5" width="1.0" height="12.5" fill="#e35c5c"/><rect x="1065.17" y="357.0" width="3.5" height="9.0" fill="#e35c5c"/><rect x="1070.91" y="351.5" width="1.0" height="11.3" fill="#419c7e"/><rect x="1069.66" y="354.3" width="3.5" height="7.3" fill="#419c7e"/><rect x="1075.39" y="347.1" width="1.0" height="10.7" fill="#e35c5c"/><rect x="1074.14" y="353.8" width="3.5" height="3.4" fill="#e35c5c"/><rect x="1079.88" y="356.5" width="1.0" height="6.3" fill="#e35c5c"/><rect x="1078.63" y="357.2" width="3.5" height="1.4" fill="#e35c5c"/><rect x="1084.36" y="348.4" width="1.0" height="10.6" fill="#419c7e"/><rect x="1083.11" y="353.4" width="3.5" height="4.4" fill="#419c7e"/><rect x="1088.85" y="349.6" width="1.0" height="6.3" fill="#e35c5c"/><rect x="1087.60" y="352.8" width="3.5" height="1.4" fill="#e35c5c"/><rect x="1093.33" y="352.1" width="1.0" height="10.7" fill="#e35c5c"/><rect x="1092.08" y="354.0" width="3.5" height="3.8" fill="#e35c5c"/><rect x="1097.82" y="352.1" width="1.0" height="6.9" fill="#419c7e"/><rect x="1096.57" y="357.2" width="3.5" height="1.6" fill="#419c7e"/><rect x="1102.31" y="344.0" width="1.0" height="13.8" fill="#419c7e"/><rect x="1101.06" y="348.4" width="3.5" height="8.8" fill="#419c7e"/><rect x="1106.79" y="342.7" width="1.0" height="9.4" fill="#e35c5c"/><rect x="1105.54" y="348.4" width="3.5" height="2.9" fill="#e35c5c"/><rect x="1111.28" y="342.1" width="1.0" height="10.0" fill="#419c7e"/><rect x="1110.03" y="344.0" width="3.5" height="7.5" fill="#419c7e"/><rect x="1115.76" y="340.0" width="1.0" height="6.5" fill="#e35c5c"/><rect x="1114.51" y="340.8" width="3.5" height="1.9" fill="#e35c5c"/><rect x="1120.25" y="337.5" width="1.0" height="8.0" fill="#419c7e"/><rect x="1119.00" y="338.9" width="3.5" height="5.7" fill="#419c7e"/><rect x="1124.74" y="338.3" width="1.0" height="10.1" fill="#e35c5c"/><rect x="1123.49" y="338.9" width="3.5" height="5.7" fill="#e35c5c"/><rect x="1129.22" y="330.8" width="1.0" height="13.2" fill="#419c7e"/><rect x="1127.97" y="335.2" width="3.5" height="8.1" fill="#419c7e"/><rect x="1133.71" y="333.9" width="1.0" height="12.0" fill="#e35c5c"/><rect x="1132.46" y="338.3" width="3.5" height="3.2" fill="#e35c5c"/><rect x="1138.19" y="341.0" width="1.0" height="18.5" fill="#e35c5c"/><rect x="1136.94" y="341.5" width="3.5" height="17.5" fill="#e35c5c"/><rect x="1142.68" y="356.0" width="1.0" height="4.0" fill="#419c7e"/><rect x="1141.43" y="357.0" width="3.5" height="2.0" fill="#419c7e"/></g><g clip-path="url(#mp)"><line x1="31.5" x2="31.5" y1="306" y2="326" stroke="#34463f" stroke-width="1.3"/><path d="M33.0,307.2 C36.0,306.2 39.0,307 41.0,307.9 C43.0,308.7 45.0,308.2 48.0,307.8 L48.0,318.1 C45.5,318.6 43.0,319.3 41.0,318.7 C39.0,317.8 36.0,317.2 33.0,318.0 Z" fill="#2f6251"/><rect x="36.5" y="310.5" width="0.9" height="0.9" fill="#ffffff" fill-opacity="0.35"/><rect x="40.5" y="310.0" width="0.9" height="0.9" fill="#ffffff" fill-opacity="0.35"/><rect x="44.0" y="310.8" width="0.9" height="0.9" fill="#ffffff" fill-opacity="0.35"/><rect x="38.0" y="314.5" width="0.9" height="0.9" fill="#ffffff" fill-opacity="0.35"/><rect x="42.0" y="314.3" width="0.9" height="0.9" fill="#ffffff" fill-opacity="0.35"/><line x1="139" x2="139" y1="279.5" y2="299.5" stroke="#34463f" stroke-width="1.3"/><path d="M140.5,280.7 C143.5,279.7 146.5,280.5 148.5,281.4 C150.5,282.2 152.5,281.7 155.5,281.3 L155.5,291.6 C153.0,292.1 150.5,292.8 148.5,292.2 C146.5,291.3 143.5,290.7 140.5,291.5 Z" fill="#2f6251"/><rect x="144.0" y="284.0" width="0.9" height="0.9" fill="#ffffff" fill-opacity="0.35"/><rect x="148.0" y="283.5" width="0.9" height="0.9" fill="#ffffff" fill-opacity="0.35"/><rect x="151.5" y="284.3" width="0.9" height="0.9" fill="#ffffff" fill-opacity="0.35"/><rect x="145.5" y="288.0" width="0.9" height="0.9" fill="#ffffff" fill-opacity="0.35"/><rect x="149.5" y="287.8" width="0.9" height="0.9" fill="#ffffff" fill-opacity="0.35"/><line x1="332.5" x2="332.5" y1="116.5" y2="136.5" stroke="#34463f" stroke-width="1.3"/><path d="M334.0,117.7 C337.0,116.7 340.0,117.5 342.0,118.4 C344.0,119.2 346.0,118.7 349.0,118.3 L349.0,128.6 C346.5,129.1 344.0,129.8 342.0,129.2 C340.0,128.3 337.0,127.7 334.0,128.5 Z" fill="#e2434f"/><rect x="337.5" y="121.0" width="0.9" height="0.9" fill="#ffffff" fill-opacity="0.35"/><rect x="341.5" y="120.5" width="0.9" height="0.9" fill="#ffffff" fill-opacity="0.35"/><rect x="345.0" y="121.3" width="0.9" height="0.9" fill="#ffffff" fill-opacity="0.35"/><rect x="339.0" y="125.0" width="0.9" height="0.9" fill="#ffffff" fill-opacity="0.35"/><rect x="343.0" y="124.8" width="0.9" height="0.9" fill="#ffffff" fill-opacity="0.35"/><line x1="444" x2="444" y1="85.2" y2="105.2" stroke="#34463f" stroke-width="1.3"/><path d="M445.5,86.4 C448.5,85.4 451.5,86.2 453.5,87.10000000000001 C455.5,87.9 457.5,87.4 460.5,87.0 L460.5,97.3 C458.0,97.8 455.5,98.5 453.5,97.9 C451.5,97.0 448.5,96.4 445.5,97.2 Z" fill="#e2434f"/><rect x="449.0" y="89.7" width="0.9" height="0.9" fill="#ffffff" fill-opacity="0.35"/><rect x="453.0" y="89.2" width="0.9" height="0.9" fill="#ffffff" fill-opacity="0.35"/><rect x="456.5" y="90.0" width="0.9" height="0.9" fill="#ffffff" fill-opacity="0.35"/><rect x="450.5" y="93.7" width="0.9" height="0.9" fill="#ffffff" fill-opacity="0.35"/><rect x="454.5" y="93.5" width="0.9" height="0.9" fill="#ffffff" fill-opacity="0.35"/><line x1="609.8" x2="609.8" y1="276.3" y2="296.3" stroke="#34463f" stroke-width="1.3"/><path d="M611.3,277.5 C614.3,276.5 617.3,277.3 619.3,278.2 C621.3,279.0 623.3,278.5 626.3,278.1 L626.3,288.40000000000003 C623.8,288.90000000000003 621.3,289.6 619.3,289.0 C617.3,288.1 614.3,287.5 611.3,288.3 Z" fill="#2f6251"/><rect x="614.8" y="280.8" width="0.9" height="0.9" fill="#ffffff" fill-opacity="0.35"/><rect x="618.8" y="280.3" width="0.9" height="0.9" fill="#ffffff" fill-opacity="0.35"/><rect x="622.3" y="281.1" width="0.9" height="0.9" fill="#ffffff" fill-opacity="0.35"/><rect x="616.3" y="284.8" width="0.9" height="0.9" fill="#ffffff" fill-opacity="0.35"/><rect x="620.3" y="284.6" width="0.9" height="0.9" fill="#ffffff" fill-opacity="0.35"/><line x1="721.8" x2="721.8" y1="289.2" y2="309.2" stroke="#34463f" stroke-width="1.3"/><path d="M723.3,290.4 C726.3,289.4 729.3,290.2 731.3,291.09999999999997 C733.3,291.9 735.3,291.4 738.3,291.0 L738.3,301.3 C735.8,301.8 733.3,302.5 731.3,301.9 C729.3,301.0 726.3,300.4 723.3,301.2 Z" fill="#2f6251"/><rect x="726.8" y="293.7" width="0.9" height="0.9" fill="#ffffff" fill-opacity="0.35"/><rect x="730.8" y="293.2" width="0.9" height="0.9" fill="#ffffff" fill-opacity="0.35"/><rect x="734.3" y="294.0" width="0.9" height="0.9" fill="#ffffff" fill-opacity="0.35"/><rect x="728.3" y="297.7" width="0.9" height="0.9" fill="#ffffff" fill-opacity="0.35"/><rect x="732.3" y="297.5" width="0.9" height="0.9" fill="#ffffff" fill-opacity="0.35"/><line x1="896.5" x2="896.5" y1="252.3" y2="272.3" stroke="#34463f" stroke-width="1.3"/><path d="M898.0,253.5 C901.0,252.5 904.0,253.3 906.0,254.20000000000002 C908.0,255.0 910.0,254.5 913.0,254.10000000000002 L913.0,264.40000000000003 C910.5,264.90000000000003 908.0,265.6 906.0,265.0 C904.0,264.1 901.0,263.5 898.0,264.3 Z" fill="#2f6251"/><rect x="901.5" y="256.8" width="0.9" height="0.9" fill="#ffffff" fill-opacity="0.35"/><rect x="905.5" y="256.3" width="0.9" height="0.9" fill="#ffffff" fill-opacity="0.35"/><rect x="909.0" y="257.1" width="0.9" height="0.9" fill="#ffffff" fill-opacity="0.35"/><rect x="903.0" y="260.8" width="0.9" height="0.9" fill="#ffffff" fill-opacity="0.35"/><rect x="907.0" y="260.6" width="0.9" height="0.9" fill="#ffffff" fill-opacity="0.35"/><line x1="1009" x2="1009" y1="280.2" y2="300.2" stroke="#34463f" stroke-width="1.3"/><path d="M1010.5,281.4 C1013.5,280.4 1016.5,281.2 1018.5,282.09999999999997 C1020.5,282.9 1022.5,282.4 1025.5,282.0 L1025.5,292.3 C1023.0,292.8 1020.5,293.5 1018.5,292.9 C1016.5,292.0 1013.5,291.4 1010.5,292.2 Z" fill="#2f6251"/><rect x="1014.0" y="284.7" width="0.9" height="0.9" fill="#ffffff" fill-opacity="0.35"/><rect x="1018.0" y="284.2" width="0.9" height="0.9" fill="#ffffff" fill-opacity="0.35"/><rect x="1021.5" y="285.0" width="0.9" height="0.9" fill="#ffffff" fill-opacity="0.35"/><rect x="1015.5" y="288.7" width="0.9" height="0.9" fill="#ffffff" fill-opacity="0.35"/><rect x="1019.5" y="288.5" width="0.9" height="0.9" fill="#ffffff" fill-opacity="0.35"/><circle cx="43.1" cy="287.8" r="9.9" fill="none" stroke="#1d1dd6" stroke-width="1.0"/><path d="M43.5,280.90000000000003 V294.7 M43.7,281.2 L38.9,284.2" fill="none" stroke="#1d1dd6" stroke-width="2.3" stroke-linecap="butt"/><circle cx="150.2" cy="259.4" r="9.9" fill="none" stroke="#1d1dd6" stroke-width="1.0"/><text x="150.39999999999998" y="266.0" font-size="17.6" fill="#1d1dd6" stroke="#1d1dd6" stroke-width="0.35" text-anchor="middle">2</text><circle cx="343.5" cy="99.4" r="9.9" fill="none" stroke="#1d1dd6" stroke-width="1.0"/><text x="343.7" y="106.0" font-size="17.6" fill="#1d1dd6" stroke="#1d1dd6" stroke-width="0.35" text-anchor="middle">3</text><circle cx="454" cy="70.2" r="9.9" fill="none" stroke="#1d1dd6" stroke-width="1.0"/><text x="454.2" y="76.8" font-size="17.6" fill="#1d1dd6" stroke="#1d1dd6" stroke-width="0.35" text-anchor="middle">4</text><circle cx="619.8" cy="258.4" r="9.9" fill="none" stroke="#1d1dd6" stroke-width="1.0"/><text x="620.0" y="265.0" font-size="17.6" fill="#1d1dd6" stroke="#1d1dd6" stroke-width="0.35" text-anchor="middle">5</text><circle cx="732.4" cy="271.6" r="9.9" fill="none" stroke="#1d1dd6" stroke-width="1.0"/><text x="732.6" y="278.20000000000005" font-size="17.6" fill="#1d1dd6" stroke="#1d1dd6" stroke-width="0.35" text-anchor="middle">6</text><circle cx="904.5" cy="234.1" r="9.9" fill="none" stroke="#1d1dd6" stroke-width="1.0"/><text x="904.7" y="240.7" font-size="17.6" fill="#1d1dd6" stroke="#1d1dd6" stroke-width="0.35" text-anchor="middle">7</text><circle cx="1018.5" cy="263.8" r="9.9" fill="none" stroke="#1d1dd6" stroke-width="1.0"/><text x="1018.7" y="270.40000000000003" font-size="17.6" fill="#1d1dd6" stroke="#1d1dd6" stroke-width="0.35" text-anchor="middle">8</text></g><g clip-path="url(#ip)"><line x1="6.46" x2="1142" y1="409.1" y2="409.1" stroke="#24503d" stroke-width="2.1" stroke-dasharray="2.1 4.07"/><line x1="6.46" x2="1142" y1="463.9" y2="463.9" stroke="#e04e4e" stroke-width="2.1" stroke-dasharray="2.1 4.07"/><path d="M8.0,417.0 L9.2,414.2 L12.5,405.3 L30.8,405.3 L35.0,393.8 L49.2,393.8 L53.0,408.0 L70.8,408.0 L75.0,424.7 L93.7,424.7 L97.5,408.0 L115.0,408.0 L120.3,401.7 L138.3,401.7 L143.0,399.2 L156.7,399.2 L160.8,397.2 L179.2,397.2 L183.0,419.7 L201.4,419.6 L205.4,431.9 L224.1,431.9 L226.8,431.5 L246.0,431.5 L250.4,435.0 L268.4,435.0 L273.1,440.3 L290.6,440.3 L295.4,452.5 L313.9,452.5 L318.1,465.6 L331.4,465.6 L335.6,460.4 L353.6,460.4 L358.0,452.5 L375.5,452.5 L380.4,445.5 L397.8,445.5 L403.4,453.3 L421.4,453.3 L425.5,473.3 L443.3,473.3 L447.8,485.7 L461.2,485.7 L466.0,469.2 L484.0,469.2 L488.1,472.9 L505.2,472.9 L510.8,467.8 L523.8,467.8 L528.8,460.1 L546.9,460.1 L551.0,421.3 L564.5,421.3 L569.6,414.1 L587.2,414.1 L591.8,398.0 L609.3,398.0 L613.6,403.6 L632.0,403.6 L635.9,388.9 L654.4,388.9 L658.6,381.4 L676.6,381.4 L680.7,384.4 L698.9,384.4 L703.4,391.9 L721.6,391.9 L725.6,381.4 L761.5,381.4 L765.9,385.2 L784.3,385.2 L788.6,386.6 L806.6,386.6 L811.0,394.5 L829.9,394.5 L834.1,408.9 L851.3,408.9 L855.6,416.4 L874.4,416.4 L877.9,397.7 L895.9,397.7 L900.6,393.1 L919.2,393.1 L923.4,381.4 L1094.0,381.3 L1098.3,386.0 L1112.0,386.0 L1115.3,387.1 L1129.7,387.1 L1133.7,395.3 L1142.0,395.3" fill="none" stroke="#bb4747" stroke-width="2.6" stroke-linejoin="round"/></g><text x="15.9" y="40.7" font-size="10.4" fill="#6b7075" textLength="117" lengthAdjust="spacingAndGlyphs" stroke="#6b7075" stroke-width="0.22">Weizen Futures, 1T, CBOT</text><text x="140.2" y="40.7" font-size="10.4" fill="#6b7075" stroke="#6b7075" stroke-width="0.22">O</text><text x="147" y="40.7" font-size="10.4" fill="#e35c5c" textLength="22" lengthAdjust="spacingAndGlyphs" stroke="#e35c5c" stroke-width="0.22">643'6</text><text x="176.8" y="40.7" font-size="10.4" fill="#6b7075" stroke="#6b7075" stroke-width="0.22">H</text><text x="183" y="40.7" font-size="10.4" fill="#e35c5c" textLength="22" lengthAdjust="spacingAndGlyphs" stroke="#e35c5c" stroke-width="0.22">647'6</text><text x="212.5" y="40.7" font-size="10.4" fill="#6b7075" stroke="#6b7075" stroke-width="0.22">L</text><text x="217.3" y="40.7" font-size="10.4" fill="#e35c5c" textLength="22" lengthAdjust="spacingAndGlyphs" stroke="#e35c5c" stroke-width="0.22">629'6</text><text x="247" y="40.7" font-size="10.4" fill="#6b7075" stroke="#6b7075" stroke-width="0.22">C</text><text x="253.8" y="40.7" font-size="10.4" fill="#e35c5c" textLength="22" lengthAdjust="spacingAndGlyphs" stroke="#e35c5c" stroke-width="0.22">642'2</text><text x="15.9" y="54.3" font-size="10.4" fill="#6b7075" textLength="113" lengthAdjust="spacingAndGlyphs" stroke="#6b7075" stroke-width="0.22">MA (18, close, 0, SMA, 6)</text><text x="136.7" y="54.3" font-size="10.4" fill="#4a4ae8" textLength="22.7" lengthAdjust="spacingAndGlyphs" stroke="#4a4ae8" stroke-width="0.22">655'0</text><text x="15.8" y="385.8" font-size="10.4" fill="#6b7075" textLength="103.4" lengthAdjust="spacingAndGlyphs" stroke="#6b7075" stroke-width="0.22">CI-Buschi (26, 52, 164)</text><text x="126.7" y="385.8" font-size="10.4" fill="#bb4747" textLength="15" lengthAdjust="spacingAndGlyphs" stroke="#bb4747" stroke-width="0.22">100</text><line x1="1142.5" x2="1142.5" y1="23" y2="527.5" stroke="#7c8088" stroke-width="1"/><line x1="8.5" x2="1191.5" y1="500" y2="500" stroke="#a3a6ad" stroke-width="1.2"/><text x="1150.8" y="39.4" font-size="10.6" fill="#4c5257" textLength="19.5" lengthAdjust="spacingAndGlyphs" stroke="#4c5257" stroke-width="0.22">USX</text><text x="1150.8" y="57.7" font-size="10.6" fill="#4c5257" textLength="21" lengthAdjust="spacingAndGlyphs" stroke="#4c5257" stroke-width="0.22">BUA</text><text x="1150.8" y="72.9" font-size="10.6" fill="#8b8f95" textLength="33" lengthAdjust="spacingAndGlyphs" stroke="#8b8f95" stroke-width="0.22">1300'0</text><text x="1150.8" y="125.4" font-size="10.6" fill="#4c5257" textLength="33" lengthAdjust="spacingAndGlyphs" stroke="#4c5257" stroke-width="0.22">1200'0</text><text x="1150.8" y="178.0" font-size="10.6" fill="#4c5257" textLength="33" lengthAdjust="spacingAndGlyphs" stroke="#4c5257" stroke-width="0.22">1100'0</text><text x="1150.8" y="230.5" font-size="10.6" fill="#4c5257" textLength="33" lengthAdjust="spacingAndGlyphs" stroke="#4c5257" stroke-width="0.22">1000'0</text><text x="1150.8" y="283.1" font-size="10.6" fill="#4c5257" textLength="27.5" lengthAdjust="spacingAndGlyphs" stroke="#4c5257" stroke-width="0.22">900'0</text><text x="1150.8" y="335.6" font-size="10.6" fill="#4c5257" textLength="27.5" lengthAdjust="spacingAndGlyphs" stroke="#4c5257" stroke-width="0.22">800'0</text><text x="1150.3" y="406.8" font-size="10.6" fill="#4c5257" stroke="#4c5257" stroke-width="0.22">80</text><text x="1150.3" y="450.9" font-size="10.6" fill="#4c5257" stroke="#4c5257" stroke-width="0.22">40</text><text x="1150.3" y="495.0" font-size="10.6" fill="#4c5257" stroke="#4c5257" stroke-width="0.22">0</text><g clip-path="url(#tpm)"><text x="98.0" y="516.9" font-size="10.8" fill="#4c5257" text-anchor="middle" stroke="#4c5257" stroke-width="0.22">Feb</text><text x="183.2" y="516.9" font-size="10.8" fill="#4c5257" text-anchor="middle" stroke="#4c5257" stroke-width="0.22">Mrz</text><text x="286.4" y="516.9" font-size="10.8" fill="#4c5257" text-anchor="middle" stroke="#4c5257" stroke-width="0.22">Apr</text><text x="376.1" y="516.9" font-size="10.8" fill="#4c5257" text-anchor="middle" stroke="#4c5257" stroke-width="0.22">Mai</text><text x="470.3" y="516.9" font-size="10.8" fill="#4c5257" text-anchor="middle" stroke="#4c5257" stroke-width="0.22">Jun</text><text x="564.5" y="516.9" font-size="10.8" fill="#4c5257" text-anchor="middle" stroke="#4c5257" stroke-width="0.22">Jul</text><text x="654.2" y="516.9" font-size="10.8" fill="#4c5257" text-anchor="middle" stroke="#4c5257" stroke-width="0.22">Aug</text><text x="757.4" y="516.9" font-size="10.8" fill="#4c5257" text-anchor="middle" stroke="#4c5257" stroke-width="0.22">Sep</text><text x="851.6" y="516.9" font-size="10.8" fill="#4c5257" text-anchor="middle" stroke="#4c5257" stroke-width="0.22">Okt</text><text x="945.8" y="516.9" font-size="10.8" fill="#4c5257" text-anchor="middle" stroke="#4c5257" stroke-width="0.22">Nov</text><text x="1040.0" y="516.9" font-size="10.8" fill="#4c5257" text-anchor="middle" stroke="#4c5257" stroke-width="0.22">Dez</text><text x="1134.2" y="516.9" font-size="10.8" fill="#4c5257" text-anchor="middle" stroke="#4c5257" stroke-width="0.22">2023</text></g><g clip-path="url(#tp)"><path d="M-7.8,500 H69.2 V521.2 Q69.2,522.9 67.7,522.9 H-6.3 Q-7.8,522.9 -7.8,521.2 Z" fill="#15312a"/><text x="30.7" y="516.9" font-size="12.2" fill="#f2f2f2" stroke="#f2f2f2" stroke-width="0.5" text-anchor="middle" textLength="58" lengthAdjust="spacingAndGlyphs">10-01-2022</text><path d="M100.1,500 H177.1 V521.2 Q177.1,522.9 175.6,522.9 H101.6 Q100.1,522.9 100.1,521.2 Z" fill="#15312a"/><text x="138.6" y="516.9" font-size="12.2" fill="#f2f2f2" stroke="#f2f2f2" stroke-width="0.5" text-anchor="middle" textLength="58" lengthAdjust="spacingAndGlyphs">14-02-2022</text><path d="M292.8,500 H369.8 V521.2 Q369.8,522.9 368.3,522.9 H294.3 Q292.8,522.9 292.8,521.2 Z" fill="#15312a"/><text x="331.3" y="516.9" font-size="12.2" fill="#f2f2f2" stroke="#f2f2f2" stroke-width="0.5" text-anchor="middle" textLength="58" lengthAdjust="spacingAndGlyphs">18-04-2022</text><path d="M405.0,500 H482.0 V521.2 Q482.0,522.9 480.5,522.9 H406.5 Q405.0,522.9 405.0,521.2 Z" fill="#15312a"/><text x="443.5" y="516.9" font-size="12.2" fill="#f2f2f2" stroke="#f2f2f2" stroke-width="0.5" text-anchor="middle" textLength="58" lengthAdjust="spacingAndGlyphs">23-05-2022</text><path d="M570.9,500 H647.9 V521.2 Q647.9,522.9 646.4,522.9 H572.4 Q570.9,522.9 570.9,521.2 Z" fill="#15312a"/><text x="609.4" y="516.9" font-size="12.2" fill="#f2f2f2" stroke="#f2f2f2" stroke-width="0.5" text-anchor="middle" textLength="58" lengthAdjust="spacingAndGlyphs">18-07-2022</text><path d="M682.9,500 H759.9 V521.2 Q759.9,522.9 758.4,522.9 H684.4 Q682.9,522.9 682.9,521.2 Z" fill="#15312a"/><text x="721.4" y="516.9" font-size="12.2" fill="#f2f2f2" stroke="#f2f2f2" stroke-width="0.5" text-anchor="middle" textLength="58" lengthAdjust="spacingAndGlyphs">22-08-2022</text><path d="M857.6,500 H934.6 V521.2 Q934.6,522.9 933.1,522.9 H859.1 Q857.6,522.9 857.6,521.2 Z" fill="#15312a"/><text x="896.1" y="516.9" font-size="12.2" fill="#f2f2f2" stroke="#f2f2f2" stroke-width="0.5" text-anchor="middle" textLength="58" lengthAdjust="spacingAndGlyphs">17-10-2022</text><path d="M970.1,500 H1047.1 V521.2 Q1047.1,522.9 1045.6,522.9 H971.6 Q970.1,522.9 970.1,521.2 Z" fill="#15312a"/><text x="1008.6" y="516.9" font-size="12.2" fill="#f2f2f2" stroke="#f2f2f2" stroke-width="0.5" text-anchor="middle" textLength="58" lengthAdjust="spacingAndGlyphs">21-11-2022</text></g><g transform="translate(9,537)" fill="#131722"><path d="M0,0 H7 V9 H3.5 V3.2 H0 Z"/><circle cx="9.3" cy="1.6" r="1.6"/><path d="M12.5,0 H16.5 L12.3,9 H8.3 Z"/></g><text x="29" y="546" font-size="10.8" fill="#60646b" textLength="59" lengthAdjust="spacingAndGlyphs" stroke="#60646b" stroke-width="0.22">TradingView</text></svg></body></html>
